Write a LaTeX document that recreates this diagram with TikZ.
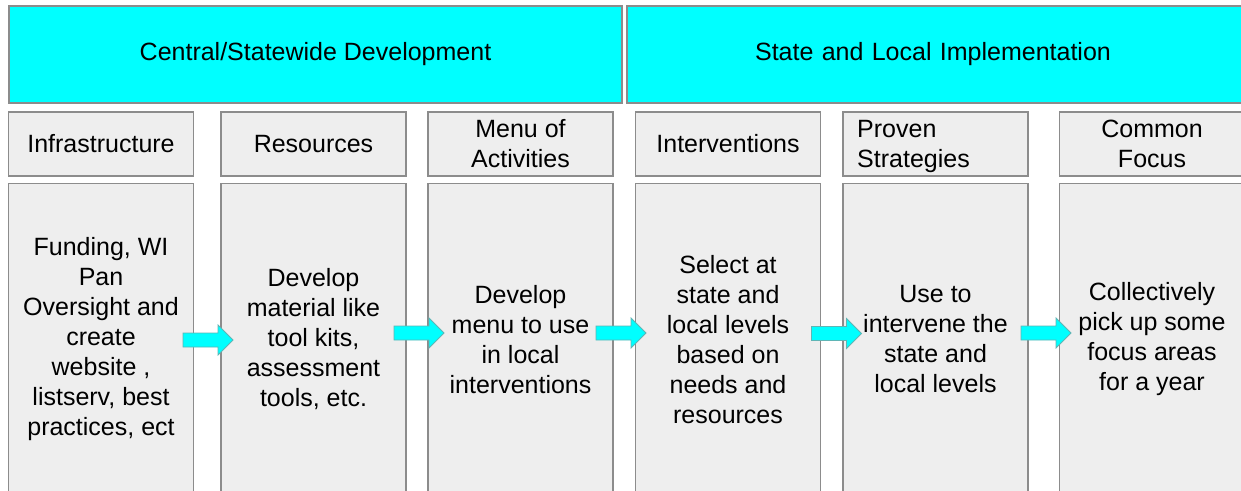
\documentclass[tikz,border=0pt]{standalone}
\usepackage{fontspec}
\setmainfont{Liberation Sans}
\definecolor{bordergray}{HTML}{8C8C8C}
\definecolor{boxfill}{HTML}{EEEEEE}
\definecolor{bannercyan}{HTML}{00FFFF}
\definecolor{arrowedge}{HTML}{5FB5B5}
\begin{document}
\begin{tikzpicture}[x=1pt,y=-1pt,
  every node/.style={font=\fontsize{25}{30}\selectfont, text=black},
  banner/.style={draw=bordergray, line width=1.6pt, fill=bannercyan, minimum height=97pt, inner sep=0pt},
  headbox/.style={draw=bordergray, line width=1.6pt, fill=boxfill, minimum width=185pt, minimum height=64pt, inner sep=0pt, align=center},
  bodybox/.style={draw=bordergray, line width=1.6pt, fill=boxfill, minimum width=185pt, minimum height=312pt, inner sep=0pt, align=center},
  blockarrow/.pic={\path[fill=bannercyan, draw=arrowedge, line width=0.8pt]
     (-25,-7) -- (10,-7) -- (10,-15) -- (25,0) -- (10,15) -- (10,7) -- (-25,7) -- cycle;}
]
\useasboundingbox (0,0) rectangle (1241,490);
\fill[white] (0,0) rectangle (1241,490);

% banners
\node[banner, minimum width=613pt] (ban1) at (315.5,54.5) {Central/Statewide Development};
\node[banner, minimum width=618pt, text width=600pt, align=center] (ban2) at (936,54.5) {\hspace*{-6pt}State and Local Implementation};

% header boxes
\node[headbox] (h1) at (101,144) {Infrastructure};
\node[headbox] (h2) at (313.5,144) {Resources};
\node[headbox] (h3) at (520.5,144) {Menu of\\Activities};
\node[headbox] (h4) at (728,144) {Interventions};
\node[headbox, align=left] (h5) at (935.5,144) {Proven\\\raisebox{0pt}[\height][0pt]{Strategies\hspace*{44pt}}};
\node[headbox] (h6) at (1152,144) {Common\\Focus};

% body boxes
\node[bodybox] (b1) at (101,339.5) {Funding, WI\\Pan\\Oversight and\\create\\website ,\\listserv, best\\practices, ect};
\node[bodybox] (b2) at (313.5,339.5) {Develop\\material like\\tool kits,\\assessment\\tools, etc.};
\node[bodybox] (b3) at (520.5,339.5) {Develop\\menu to use\\in local\\interventions};
\node[bodybox] (b4) at (728,339.5) {Select at\\state and\\local levels\\based on\\needs and\\resources};
\node[bodybox] (b5) at (935.5,339.5) {Use to\\intervene the\\state and\\local levels};
\node[bodybox] (b6) at (1152,339.5) {Collectively\\pick up some\\focus areas\\for a year};

% arrows between body boxes
\pic at (208,340) {blockarrow};
\pic at (419,333) {blockarrow};
\pic at (621,333) {blockarrow};
\pic at (836.5,333.5) {blockarrow};
\pic at (1046,333) {blockarrow};
\end{tikzpicture}
\end{document}
